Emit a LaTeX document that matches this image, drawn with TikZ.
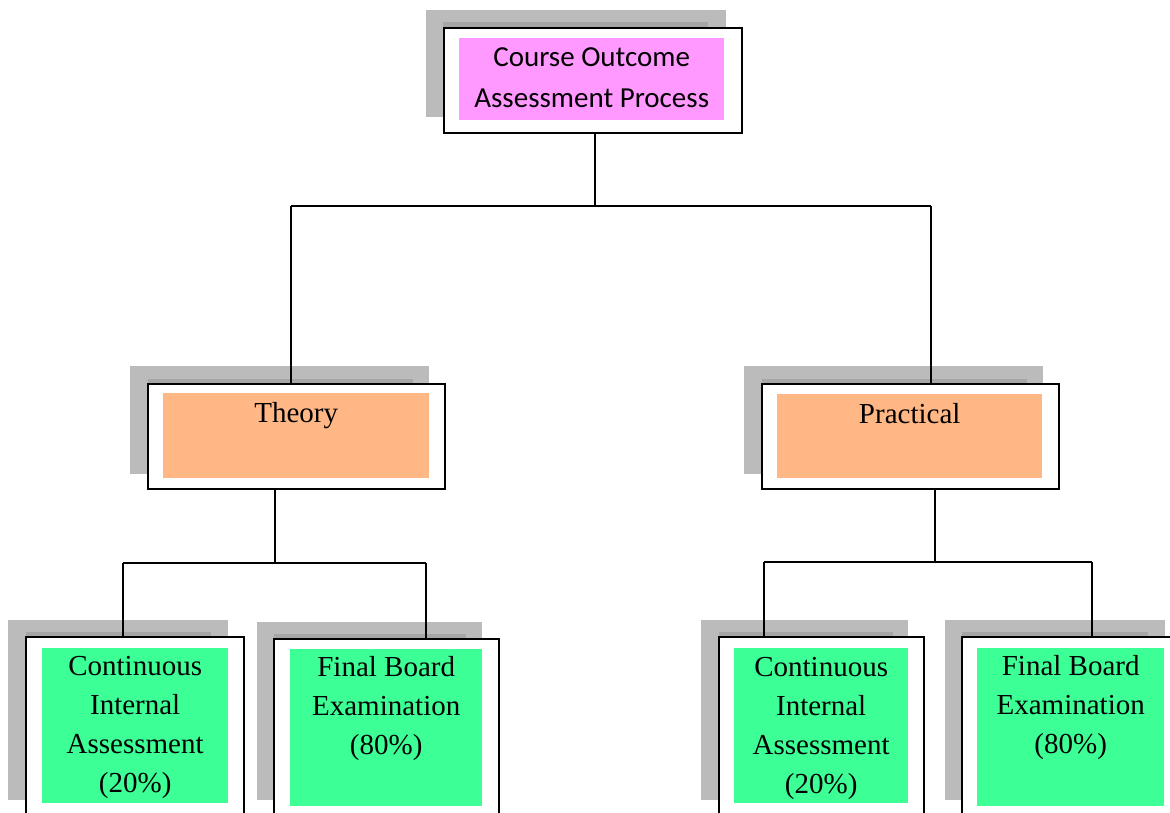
\documentclass[tikz,border=0pt]{standalone}
\usepackage{fontspec}
\setmainfont{Liberation Serif}
\newfontfamily\calibrifont{Carlito}
\usepackage{xcolor}
\definecolor{shadowgrey}{HTML}{BBBBBB}
\definecolor{shadowedge}{HTML}{A6A6A6}
\definecolor{outcomepink}{HTML}{FF99FF}
\definecolor{partorange}{HTML}{FFB786}
\definecolor{markgreen}{HTML}{3CFF96}
\tikzset{
	frame node/.style={draw,fill=white,line width=1.5pt,inner sep=0pt,anchor=north west},
	fill node/.style={inner sep=0pt,anchor=north west,font=\fontsize{29}{39}\selectfont},
	shadow/.style={fill=shadowgrey},
	shadow edge/.style={fill=shadowedge},
	link/.style={line width=1.3pt}
}

\begin{document}
\begin{tikzpicture}[x=1pt,y=-1pt]
	\useasboundingbox (0,0) rectangle (1170,812);
	\clip (0,0) rectangle (1170,812);
	% shadows
	\foreach \xa/\ya/\xb/\yb in {426/10/726/117, 130/366/429/474, 744/366/1043/474,
		8/620/228/800, 257/622/482/800, 701/620/908/800, 945/620/1165/800}
		\fill[shadow] (\xa,\ya) rectangle (\xb,\yb);
	\foreach \xa/\ya/\xb/\yb in {443/22/708/27, 148/379/413/383, 762/379/1027/383,
		26/632/211/636, 274/634/466/638, 719/632/893/636, 962/632/1148/636}
		\fill[shadow edge] (\xa,\ya) rectangle (\xb,\yb);
	% frames
	\node[frame node,minimum width=298pt,minimum height=105pt] (top) at (443,27) {};
	\node[frame node,minimum width=297pt,minimum height=105pt] (theory) at (147,383) {};
	\node[frame node,minimum width=297pt,minimum height=105pt] (practical) at (761,383) {};
	\node[frame node,minimum width=218pt,minimum height=200pt] (cia1) at (25,636) {};
	\node[frame node,minimum width=225pt,minimum height=200pt] (fbe1) at (273,638) {};
	\node[frame node,minimum width=205pt,minimum height=200pt] (cia2) at (718,636) {};
	\node[frame node,minimum width=230pt,minimum height=200pt] (fbe2) at (961,636) {};
	% coloured texts
	\node[fill node,fill=outcomepink,font=\calibrifont\fontsize{29}{41}\selectfont] (toptext) at (459,38)
		{\parbox[t][82pt][t]{265pt}{\centering\vspace*{9pt}Course Outcome\\Assessment Process}};
	\node[fill node,fill=partorange] (theorytext) at (163,393)
		{\parbox[t][85pt][t]{266pt}{\centering\vspace*{9pt}Theory}};
	\node[fill node,fill=partorange] (practicaltext) at (777,394)
		{\parbox[t][84pt][t]{265pt}{\centering\vspace*{9pt}Practical}};
	\node[fill node,fill=markgreen] (cia1text) at (42,648)
		{\parbox[t][155pt][t]{186pt}{\centering\vspace*{8pt}Continuous\\Internal\\Assessment\\(20\%)}};
	\node[fill node,fill=markgreen] (fbe1text) at (290,649)
		{\parbox[t][157pt][t]{192pt}{\centering\vspace*{7pt}Final Board\\Examination\\(80\%)}};
	\node[fill node,fill=markgreen] (cia2text) at (734,648)
		{\parbox[t][155pt][t]{174pt}{\centering\vspace*{9pt}Continuous\\Internal\\Assessment\\(20\%)}};
	\node[fill node,fill=markgreen] (fbe2text) at (977,648)
		{\parbox[t][158pt][t]{187pt}{\centering\vspace*{7pt}Final Board\\Examination\\(80\%)}};
	% connectors
	\coordinate (top join) at (595,206);
	\coordinate (topbar west) at (291,206);
	\coordinate (topbar east) at (931,206);
	\coordinate (theory join) at (275,563);
	\coordinate (theorybar west) at (123,563);
	\coordinate (theorybar east) at (426,563);
	\coordinate (practical join) at (935,562);
	\coordinate (practicalbar west) at (764,562);
	\coordinate (practicalbar east) at (1092,562);
	\draw[link] (top join |- top.south) -- (top join);
	\draw[link] (topbar west) -- (topbar east);
	\draw[link] (topbar west) -- (topbar west |- theory.north);
	\draw[link] (topbar east) -- (topbar east |- practical.north);
	\draw[link] (theory join |- theory.south) -- (theory join);
	\draw[link] (theorybar west) -- (theorybar east);
	\draw[link] (theorybar west) -- (theorybar west |- cia1.north);
	\draw[link] (theorybar east) -- (theorybar east |- fbe1.north);
	\draw[link] (practical join |- practical.south) -- (practical join);
	\draw[link] (practicalbar west) -- (practicalbar east);
	\draw[link] (practicalbar west) -- (practicalbar west |- cia2.north);
	\draw[link] (practicalbar east) -- (practicalbar east |- fbe2.north);
\end{tikzpicture}
\end{document}
